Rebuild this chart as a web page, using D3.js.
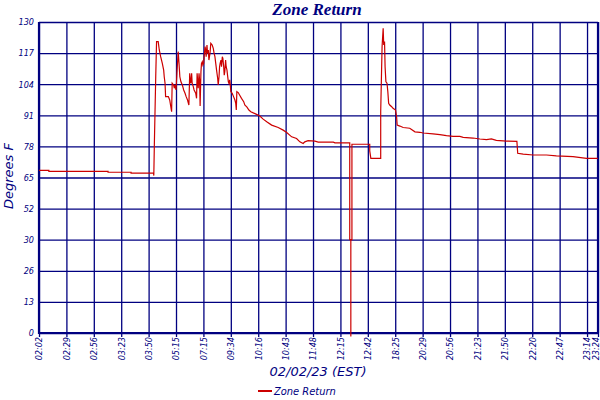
<!DOCTYPE html>
<html><head><meta charset="utf-8">
<script src="https://cdn.jsdelivr.net/npm/d3@7"></script>
<style>
body{margin:0;background:#fff;}
svg{display:block;}
.grid line{stroke:#000080;stroke-width:1.3px;}
.grid path{display:none;}
</style></head>
<body><svg id="c" width="600" height="400"></svg>
<script>
// x positions are sample positions (tick units: 10 samples per grid division)
const xTickPositions = [0,10,20,30,40,50,60,70,80,90,100,110,120,130,140,150,160,170,180,190,200,204];
const xTickLabels = ["02:02","02:29","02:56","03:23","03:50","05:15","07:15","09:34","10:16","10:43","11:48","12:15","12:42","18:25","20:29","20:56","21:23","21:50","22:20","22:47","23:14","23:24"];
const yTickValues = [0,13,26,39,52,65,78,91,104,117,130];
const yTickLabels = ["0","13","26","30","52","65","78","91","104","117","130"];
const sampleX = [0.0,3.6,3.6,25.2,25.2,33.6,33.6,41.8,41.9,42.1,42.6,42.9,43.5,43.9,44.4,45.0,45.5,45.7,46.0,46.2,47.2,47.7,48.1,48.4,48.6,49.1,49.4,49.6,50.0,50.4,50.8,51.1,51.4,51.8,52.3,52.8,53.3,53.7,54.2,54.7,55.0,55.2,55.4,55.7,55.9,56.3,56.6,57.2,57.5,57.7,58.1,58.4,58.6,58.8,59.1,59.3,59.6,59.8,60.1,60.3,60.6,60.8,61.0,61.3,61.5,61.8,62.0,62.4,62.7,63.2,63.6,63.9,64.2,64.5,64.8,65.2,65.4,65.7,65.9,66.1,66.4,66.6,66.9,67.1,67.4,67.6,67.8,68.1,68.3,68.6,68.8,69.1,69.3,69.6,69.8,70.0,70.5,71.0,71.5,71.8,72.0,72.2,72.7,73.2,73.9,74.7,75.1,75.9,76.6,77.3,78.2,79.4,80.6,81.8,83.1,84.9,87.3,89.1,90.4,92.2,94.0,95.2,96.4,97.0,98.2,100.7,101.9,107.4,108.0,113.4,113.4,113.8,113.8,113.8,114.2,114.2,120.7,120.7,121.1,124.7,124.7,125.2,125.6,125.8,126.1,126.3,126.6,127.0,127.3,127.6,128.0,128.7,129.2,130.1,130.5,130.7,131.7,132.9,135.3,137.2,139.0,140.2,143.8,146.3,148.7,151.1,153.6,154.8,158.4,160.9,163.3,165.1,166.9,170.6,174.4,174.7,176.7,180.3,185.2,188.8,194.9,199.8,203.9];
const zoneReturn = [68.0,68.0,67.6,67.6,67.2,67.2,66.8,66.8,65.8,79.0,107.1,121.8,121.8,118.3,115.5,112.7,109.9,107.1,104.4,98.8,98.8,97.4,94.6,92.5,104.4,103.7,102.3,103.7,101.6,109.9,117.6,112.7,107.1,105.0,103.7,101.6,100.2,98.8,97.4,95.3,108.6,105.0,104.4,108.6,104.4,103.0,101.6,100.2,98.1,108.6,102.3,108.6,105.8,94.9,109.2,112.7,113.4,112.0,112.7,116.2,119.7,118.3,115.5,120.4,116.9,118.3,114.1,116.9,121.1,120.4,119.0,116.9,115.5,112.7,109.9,106.5,103.7,107.1,111.3,112.7,114.1,111.3,115.5,114.8,111.3,107.8,109.2,114.1,111.3,109.9,107.8,105.0,104.4,105.8,103.7,100.9,100.2,98.8,97.4,96.0,93.2,100.9,100.5,99.5,98.1,96.7,95.3,94.4,93.2,92.5,92.0,91.4,90.7,89.4,88.3,86.9,85.9,84.8,83.8,82.0,81.3,79.9,79.2,79.9,80.4,80.2,79.8,79.8,79.5,79.5,39.0,39.0,-1.5,39.0,39.0,78.9,78.9,76.1,73.0,73.0,92.5,119.7,127.4,120.4,121.8,111.3,105.0,104.4,100.9,96.0,95.3,94.6,93.9,93.2,90.4,86.9,86.5,85.9,85.6,84.1,83.9,83.6,83.2,82.9,82.5,82.2,82.2,81.8,81.5,81.1,80.8,81.1,80.5,80.2,80.1,75.1,74.8,74.4,74.4,74.0,73.7,73.0,73.0];
const seriesName = "Zone Return";
const chartTitle = "Zone Return";
const xTitle = "02/02/23 (EST)";
const yTitle = "Degrees F";

const navy = "#000080", red = "#cc0000";
const svg = d3.select("#c");
const mLeft = 39, mRight = 598, mTop = 22, mBottom = 333;
const x = d3.scaleLinear().domain([0,204]).range([mLeft,mRight]);
const y = d3.scaleLinear().domain([0,130]).range([mBottom,mTop]);

// horizontal grid
const gy = svg.append("g").attr("class","grid").attr("transform",`translate(${mLeft},0)`)
  .call(d3.axisLeft(y).tickValues(yTickValues).tickSize(-(mRight-mLeft)).tickSizeOuter(0)
    .tickFormat((d,i)=>yTickLabels[i]).tickPadding(5));
gy.selectAll("text").attr("fill",navy).style("font-family","'DejaVu Sans Condensed', 'DejaVu Sans'")
  .style("font-style","italic").style("font-size","9px");

// vertical grid
const gx = svg.append("g").attr("class","grid").attr("transform",`translate(0,${mBottom})`)
  .call(d3.axisBottom(x).tickValues(xTickPositions).tickSize(-(mBottom-mTop)).tickSizeOuter(0)
    .tickFormat((d,i)=>xTickLabels[i]));
gx.selectAll(".tick").append("line").attr("y1",0).attr("y2",4).attr("stroke",navy).attr("stroke-width",1.3);
gx.selectAll("text").attr("fill",navy).style("font-family","'DejaVu Sans Condensed', 'DejaVu Sans'")
  .style("font-style","italic").style("font-size","9px")
  .attr("text-anchor","end").attr("transform","rotate(-90)")
  .attr("x",-4).attr("y",(d,i)=> i === xTickPositions.length-1 ? -2.5 : 0).attr("dy","0.32em");

// axis frame lines
svg.append("line").attr("x1",mLeft).attr("x2",mLeft).attr("y1",mTop).attr("y2",mBottom+1)
  .attr("stroke",navy).attr("stroke-width",2.2);
svg.append("line").attr("x1",mLeft).attr("x2",mRight).attr("y1",mBottom).attr("y2",mBottom)
  .attr("stroke",navy).attr("stroke-width",1.8);
svg.append("line").attr("x1",x(204)).attr("x2",x(204)).attr("y1",mTop).attr("y2",mBottom)
  .attr("stroke",navy).attr("stroke-width",2.2);

// data line
const pts = sampleX.map((d,i)=>[d, zoneReturn[i]]);
svg.append("path").datum(pts)
  .attr("d", d3.line().x(d=>x(d[0])).y(d=>y(d[1])))
  .attr("fill","none").attr("stroke",red).attr("stroke-width",1.2).attr("stroke-linejoin","miter");

// titles
svg.append("text").attr("x",317).attr("y",15).attr("text-anchor","middle")
  .attr("fill",navy).style("font-family","'Liberation Serif'").style("font-style","italic")
  .style("font-weight","bold").style("font-size","17px").text(chartTitle);
svg.append("text").attr("x",318).attr("y",376).attr("text-anchor","middle")
  .attr("fill",navy).style("font-family","'DejaVu Sans'").style("font-style","italic")
  .style("font-size","13px").text(xTitle);
svg.append("text").attr("transform","translate(13,176) rotate(-90)").attr("text-anchor","middle")
  .attr("fill",navy).style("font-family","'DejaVu Sans'").style("font-style","italic")
  .style("font-size","13px").text(yTitle);

// legend
svg.append("line").attr("x1",258).attr("x2",272).attr("y1",391).attr("y2",391)
  .attr("stroke",red).attr("stroke-width",2);
svg.append("text").attr("x",274).attr("y",395).attr("fill",navy)
  .style("font-family","'DejaVu Sans Condensed', 'DejaVu Sans'").style("font-style","italic")
  .style("font-size","11px").text(seriesName);
</script></body></html>
